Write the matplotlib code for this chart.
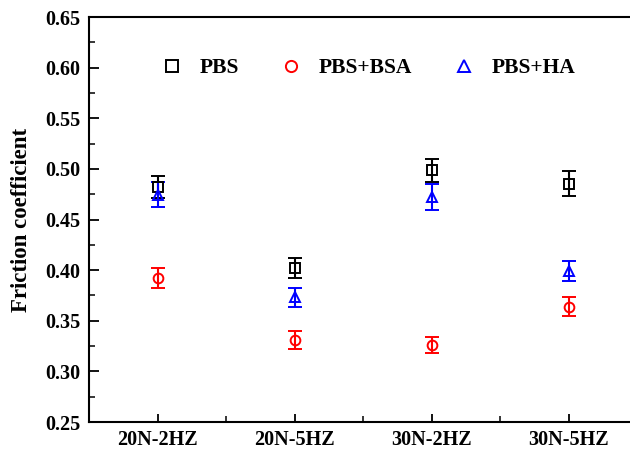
import matplotlib
matplotlib.use("Agg")
import matplotlib.pyplot as plt
from matplotlib.ticker import MultipleLocator, FixedLocator

plt.rcParams['font.family'] = ['Liberation Serif', 'DejaVu Serif']
plt.rcParams['font.weight'] = 'bold'

categories = ["20N-2HZ", "20N-5HZ", "30N-2HZ", "30N-5HZ"]
pbs = [0.482, 0.402, 0.4985, 0.4855]
pbs_err = [0.011, 0.0095, 0.0115, 0.0125]
bsa = [0.392, 0.331, 0.3264, 0.364]
bsa_err = [0.010, 0.0085, 0.008, 0.0095]
ha = [0.4745, 0.373, 0.4725, 0.399]
ha_err = [0.0125, 0.0095, 0.013, 0.010]

fig = plt.figure(figsize=(6.3, 4.5), dpi=100)
ax = fig.add_axes([0.1413, 0.0622, 0.87, 0.9])

x = list(range(1, len(categories) + 1))
series = [
    (pbs, pbs_err, 's', 'black', 'PBS'),
    (bsa, bsa_err, 'o', 'red', 'PBS+BSA'),
    (ha, ha_err, '^', 'blue', 'PBS+HA'),
]
for vals, errs, mk, col, lab in series:
    ax.errorbar(x, vals, yerr=errs, fmt=mk, color=col, mfc='none', mec=col,
                ms=7, mew=1.4, elinewidth=1.5, capsize=5, capthick=1.5,
                label=lab)

ax.set_xlim(0.5, 4.5)
ax.set_ylim(0.25, 0.65)
ax.set_xticks(x)
ax.set_xticklabels(categories)
ax.xaxis.set_minor_locator(FixedLocator([1.5, 2.5, 3.5]))
ax.yaxis.set_major_locator(MultipleLocator(0.05))
ax.yaxis.set_minor_locator(MultipleLocator(0.025))
ax.yaxis.set_major_formatter(matplotlib.ticker.FormatStrFormatter('%.2f'))
ax.tick_params(which='major', direction='in', length=7, width=1.3, labelsize=14.5, pad=6)
ax.tick_params(which='minor', direction='in', length=4, width=1.1)
ax.tick_params(axis='x', which='major', length=6)
for s in ax.spines.values():
    s.set_linewidth(1.5)
ax.set_ylabel("Friction coefficient", fontsize=16.5, fontweight='bold', labelpad=10)

handles, labels = ax.get_legend_handles_labels()
handles = [h[0] for h in handles]
leg = ax.legend(handles, labels, loc='center left', bbox_to_anchor=(0.116, 0.873),
                ncol=3, frameon=False, fontsize=15.5, handlelength=1.0,
                columnspacing=1.9, handletextpad=0.8, markerscale=1.15,
                borderaxespad=0)

fig.savefig("out.png", dpi=100)
